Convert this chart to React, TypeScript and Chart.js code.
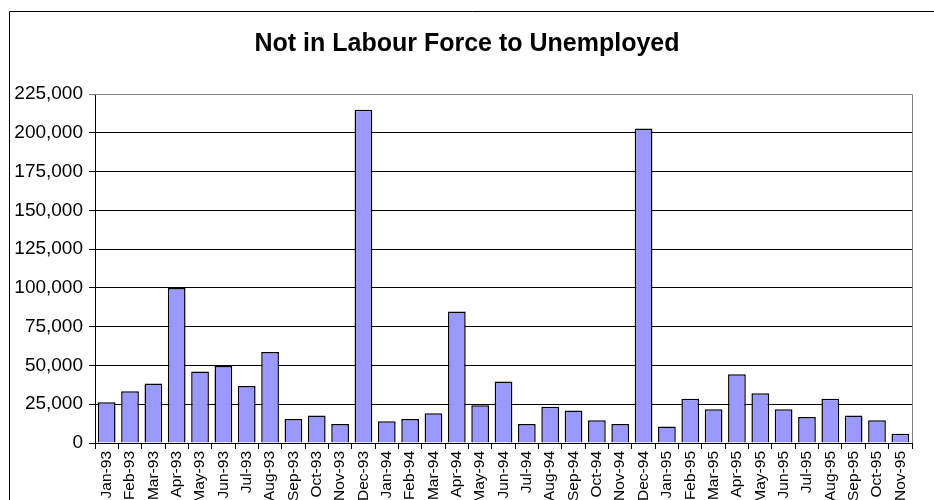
import React, { useEffect, useRef } from "react";
import { Chart, registerables } from "chart.js";

Chart.register(...registerables);

const TITLE = "Not in Labour Force to Unemployed";

const months: string[] = [
  "Jan-93", "Feb-93", "Mar-93", "Apr-93", "May-93", "Jun-93", "Jul-93", "Aug-93", "Sep-93", "Oct-93", "Nov-93", "Dec-93",
  "Jan-94", "Feb-94", "Mar-94", "Apr-94", "May-94", "Jun-94", "Jul-94", "Aug-94", "Sep-94", "Oct-94", "Nov-94", "Dec-94",
  "Jan-95", "Feb-95", "Mar-95", "Apr-95", "May-95", "Jun-95", "Jul-95", "Aug-95", "Sep-95", "Oct-95", "Nov-95",
];

const values: number[] = [
  26200, 33300, 38300, 100000, 46100, 49600, 36700, 58600, 15500, 17700, 12200, 214800,
  14000, 15500, 19100, 84700, 24300, 39600, 12200, 23400, 20900, 14600, 12200, 202800,
  10600, 28600, 21700, 44300, 32000, 21700, 16800, 28600, 17700, 14600, 6000,
];

const Y_MIN = 0;
const Y_MAX = 225000;
const Y_STEP = 25000;

const FONT = "'Liberation Sans', Arial, Helvetica, sans-serif";

const framePlugin = {
  id: "frame",
  beforeDraw(chart: any) {
    const ctx = chart.ctx;
    ctx.save();
    ctx.fillStyle = "#ffffff";
    ctx.fillRect(0, 0, chart.width, chart.height);
    ctx.strokeStyle = "#000000";
    ctx.lineWidth = 1;
    ctx.beginPath();
    ctx.moveTo(9.5, chart.height + 5);
    ctx.lineTo(9.5, 11.5);
    ctx.lineTo(chart.width + 5, 11.5);
    ctx.stroke();
    ctx.restore();
  },
  afterDatasetsDraw(chart: any) {
    const ctx = chart.ctx;
    const a = chart.chartArea;
    ctx.save();
    ctx.strokeStyle = "#808080";
    ctx.lineWidth = 1;
    ctx.beginPath();
    ctx.moveTo(a.left, Math.round(a.top) + 0.5);
    ctx.lineTo(Math.round(a.right) + 0.5, Math.round(a.top) + 0.5);
    ctx.lineTo(Math.round(a.right) + 0.5, a.bottom);
    ctx.stroke();
    ctx.fillStyle = "#000000";
    ctx.font = `bold 25px ${FONT}`;
    ctx.textAlign = "center";
    ctx.textBaseline = "middle";
    ctx.fillText(TITLE, 467, 44);
    ctx.restore();
  },
};

export default function App() {
  const ref = useRef<HTMLCanvasElement | null>(null);

  useEffect(() => {
    if (!ref.current) return;
    const chart = new Chart(ref.current, {
      type: "bar",
      data: {
        labels: months,
        datasets: [
          {
            data: values,
            backgroundColor: "#9999FF",
            borderColor: "#000000",
            borderWidth: 1.5,
            borderSkipped: "start",
            barPercentage: 0.76,
            categoryPercentage: 1,
          },
        ],
      },
      options: {
        animation: false,
        responsive: false,
        maintainAspectRatio: false,
        events: [],
        layout: { padding: { left: 0, right: 22, top: 94, bottom: 0 } },
        plugins: {
          legend: { display: false },
          title: { display: false },
          tooltip: { enabled: false },
        },
        scales: {
          x: {
            grid: {
              display: true,
              offset: true,
              drawOnChartArea: false,
              drawTicks: true,
              tickLength: 6,
              color: "#000000",
            },
            border: { display: true, color: "#000000", width: 1 },
            ticks: {
              autoSkip: false,
              minRotation: 90,
              maxRotation: 90,
              padding: 2,
              color: "#000000",
              font: { family: FONT, size: 15.5 },
            },
            afterFit(scale: any) {
              scale.height = 57;
            },
          },
          y: {
            min: Y_MIN,
            max: Y_MAX,
            grid: {
              display: true,
              drawTicks: true,
              tickLength: 6,
              color: (c: any) => (c.tick && c.tick.value === Y_MAX ? "#808080" : "#000000"),
            },
            border: { display: true, color: "#000000", width: 1 },
            ticks: {
              stepSize: Y_STEP,
              padding: 6,
              color: "#000000",
              font: { family: FONT, size: 19 },
              callback: (v: any) => Number(v).toLocaleString("en-US"),
            },
            afterFit(scale: any) {
              scale.width = 95;
            },
          },
        },
      },
      plugins: [framePlugin],
    });
    return () => chart.destroy();
  }, []);

  return (
    <div style={{ position: "fixed", left: 0, top: 0, width: 934, height: 500, overflow: "hidden", background: "#fff" }}>
      <canvas ref={ref} width={934} height={500} style={{ display: "block", width: 934, height: 500 }} />
    </div>
  );
}
